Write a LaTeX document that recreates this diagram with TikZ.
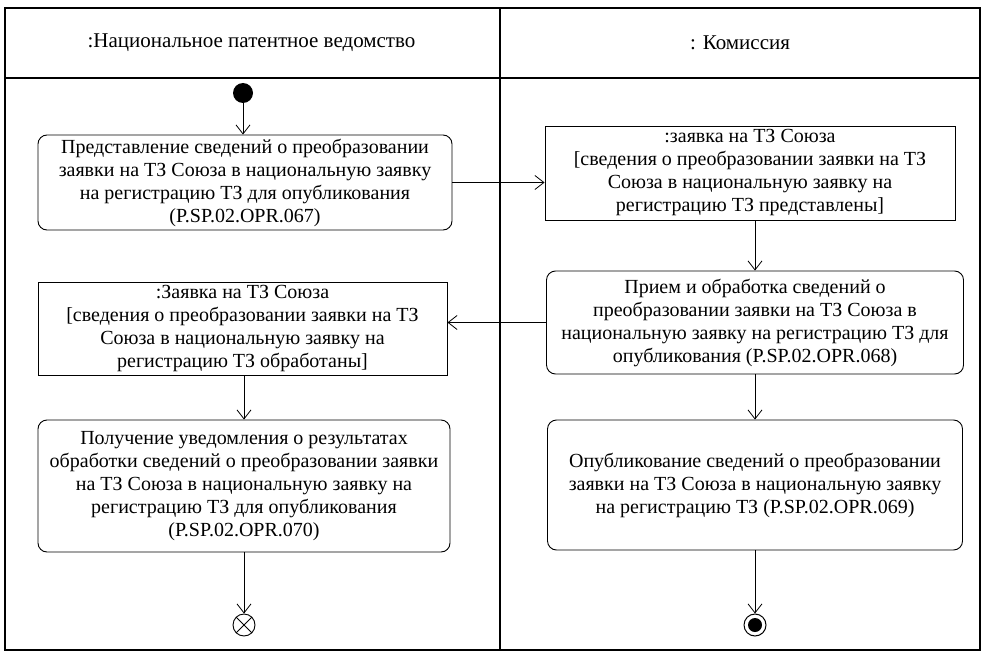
\documentclass[tikz,border=0pt]{standalone}
\usepackage{fontspec}
\setmainfont{Liberation Serif}
\usetikzlibrary{arrows.meta}
\begin{document}
\begin{tikzpicture}[x=1pt,y=-1pt,
  every node/.style={font=\fontsize{20}{23}\selectfont, align=center, inner sep=0pt},
  act/.style={draw, line width=0.9pt, rounded corners=9pt},
  obj/.style={draw, line width=0.9pt},
  lanebox/.style={draw, line width=1.3pt},
  flow/.style={draw, line width=0.8pt, -{Straight Barb[length=9pt,width=14pt,line width=0.8pt]}},
  startdot/.style={circle, fill=black, minimum size=20pt},
  headtext/.style={font=\fontsize{21}{24}\selectfont}]
\useasboundingbox (0,0) rectangle (987,658);
% swimlanes
\draw[lanebox] (5,8) rectangle (980,650);
\draw[lanebox] (5,78) -- (980,78);
\draw[lanebox] (500,8) -- (500,650);
\node[headtext] (h1) at (251.5,43) {:Национальное патентное ведомство};
\node[headtext] (h2) at (740,43) {: Комиссия};
% nodes
\node[startdot] (init) at (243,93) {};
\node[act, minimum width=414pt, minimum height=95pt] (A) at (245,182.5)
  {Представление сведений о преобразовании\\заявки на ТЗ Союза в национальную заявку\\на регистрацию ТЗ для опубликования\\(P.SP.02.OPR.067)};
\node[obj, minimum width=410pt, minimum height=94pt] (B) at (750,173)
  {:заявка на ТЗ Союза\\{}[сведения о преобразовании заявки на ТЗ\\Союза в национальную заявку на\\регистрацию ТЗ представлены]};
\node[act, minimum width=417pt, minimum height=103pt] (C) at (755,322.5)
  {Прием и обработка сведений о\\преобразовании заявки на ТЗ Союза в\\национальную заявку на регистрацию ТЗ для\\опубликования (P.SP.02.OPR.068)};
\node[obj, minimum width=409pt, minimum height=93pt] (D) at (242.5,328.5)
  {:Заявка на ТЗ Союза\\{}[сведения о преобразовании заявки на ТЗ\\Союза в национальную заявку на\\регистрацию ТЗ обработаны]};
\node[act, minimum width=412pt, minimum height=132pt] (E) at (244,486)
  {Получение уведомления о результатах\\обработки сведений о преобразовании заявки\\на ТЗ Союза в национальную заявку на\\регистрацию ТЗ для опубликования\\(P.SP.02.OPR.070)};
\node[act, minimum width=415pt, minimum height=130pt] (F) at (755,485)
  {Опубликование сведений о преобразовании\\заявки на ТЗ Союза в национальную заявку\\на регистрацию ТЗ (P.SP.02.OPR.069)};
\node[circle, draw, line width=0.9pt, minimum size=22pt] (ff) at (244,625) {};
\draw[line width=0.9pt] (ff.45) -- (ff.225) (ff.135) -- (ff.315);
\node[circle, draw, line width=1pt, minimum size=22pt] (fin) at (755,625) {};
\node[circle, fill=black, minimum size=14pt] (finin) at (fin.center) {};
% flows
\draw[flow] (init) -- (A.north -| init);
\draw[flow] (A.east) -- (B.west |- A.east);
\draw[flow] (C.north |- B.south) -- (C.north);
\draw[flow] (C.west) -- (D.east |- C.west);
\draw[flow] (E.north |- D.south) -- (E.north);
\draw[flow] (C.south) -- (F.north);
\draw[flow] (E.south) -- (ff.north);
\draw[flow] (F.south) -- (fin.north);
\end{tikzpicture}
\end{document}
